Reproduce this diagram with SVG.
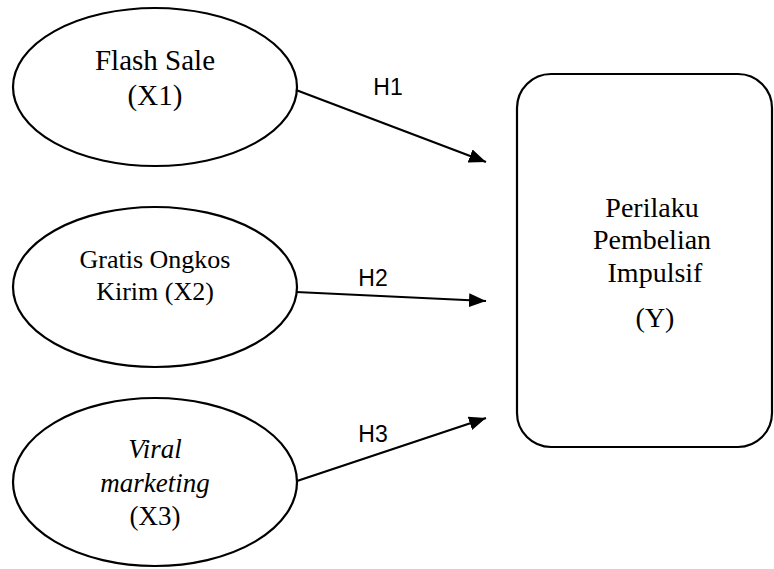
<svg xmlns="http://www.w3.org/2000/svg" width="774" height="569" viewBox="0 0 774 569">
  <defs>
    <marker id="arrowhead" markerUnits="userSpaceOnUse" markerWidth="18" markerHeight="14" refX="17" refY="7" orient="auto">
      <path d="M0,0 L17,7 L0,14 Z" fill="#000"/>
    </marker>
  </defs>
  <style>
    .shape { fill: #fff; stroke: #000; stroke-width: 2.2; }
    .serif { font-family: 'Liberation Serif', serif; fill: #000; text-anchor: middle; }
    .label { font-family: 'Liberation Sans', sans-serif; font-size: 23px; fill: #000; text-anchor: middle; }
    .edge { stroke: #000; stroke-width: 2.2; fill: none; marker-end: url(#arrowhead); }
  </style>

  <rect width="774" height="569" fill="#fff"/>

  <g id="x1-flash-sale">
    <ellipse class="shape" cx="155" cy="87" rx="142" ry="79"/>
    <text class="serif" font-size="29" x="155" y="70">Flash Sale</text>
    <text class="serif" font-size="29" x="155" y="105">(X1)</text>
  </g>

  <g id="x2-gratis-ongkir">
    <ellipse class="shape" cx="155" cy="287" rx="142" ry="80"/>
    <text class="serif" font-size="26" x="155" y="268">Gratis Ongkos</text>
    <text class="serif" font-size="26" x="155" y="300">Kirim (X2)</text>
  </g>

  <g id="x3-viral-marketing">
    <ellipse class="shape" cx="155" cy="482" rx="142" ry="84"/>
    <text class="serif" font-size="27" font-style="italic" x="155" y="458">Viral</text>
    <text class="serif" font-size="27" font-style="italic" x="155" y="492">marketing</text>
    <text class="serif" font-size="27" x="155" y="525">(X3)</text>
  </g>

  <g id="y-perilaku">
    <rect class="shape" x="517" y="74" width="255" height="373" rx="34" ry="34"/>
    <text class="serif" font-size="28" x="652" y="217">Perilaku</text>
    <text class="serif" font-size="28" x="652" y="249">Pembelian</text>
    <text class="serif" font-size="28" x="655" y="282">Impulsif</text>
    <text class="serif" font-size="28" x="655" y="327">(Y)</text>
  </g>

  <g id="connectors">
    <line class="edge" x1="296" y1="90" x2="486" y2="162"/>
    <line class="edge" x1="296" y1="292" x2="486" y2="301"/>
    <line class="edge" x1="297" y1="481" x2="486" y2="418"/>
    <text class="label" x="388" y="95">H1</text>
    <text class="label" x="373" y="286">H2</text>
    <text class="label" x="373" y="442">H3</text>
  </g>
</svg>
